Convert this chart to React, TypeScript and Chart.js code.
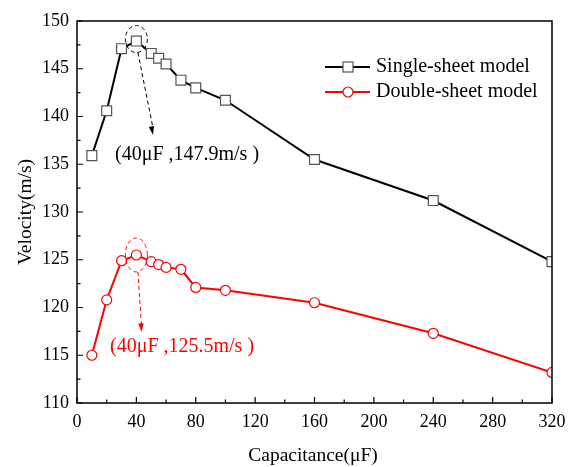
import React, { useEffect, useRef } from "react";
import { Chart, registerables } from "chart.js";

Chart.register(...registerables);

const capacitance = [10, 20, 30, 40, 50, 55, 60, 70, 80, 100, 160, 240, 320];
const singleSheet = [135.9, 140.6, 147.1, 147.9, 146.6, 146.1, 145.5, 143.8, 143.0, 141.7, 135.5, 131.2, 124.8];
const doubleSheet = [115.0, 120.8, 124.9, 125.5, 124.8, 124.5, 124.2, 124.0, 122.1, 121.8, 120.5, 117.3, 113.2];
const seriesNames = ["Single-sheet model", "Double-sheet model"];
const peakLabels = ["(40\u03bcF ,147.9m/s )", "(40\u03bcF ,125.5m/s )"];
const xTitle = "Capacitance(\u03bcF)";
const yTitle = "Velocity(m/s)";

const FONT = '"Liberation Serif", "DejaVu Serif", serif';

const decorPlugin = {
  id: "decor",
  afterDraw(chart: any) {
    const ctx = chart.ctx;
    const { left, right, top, bottom } = chart.chartArea;
    const xs = chart.scales.x;
    const ys = chart.scales.y;
    ctx.save();
    // frame
    ctx.strokeStyle = "#000";
    ctx.lineWidth = 1.5;
    ctx.strokeRect(left, top, right - left, bottom - top);
    // ticks inward
    ctx.lineWidth = 1.2;
    ctx.beginPath();
    for (let v = 0; v <= 320; v += 20) {
      const px = xs.getPixelForValue(v);
      const len = v % 40 === 0 ? 6 : 3.5;
      ctx.moveTo(px, bottom);
      ctx.lineTo(px, bottom - len);
    }
    for (let v = 110; v <= 150; v += 2.5) {
      const py = ys.getPixelForValue(v);
      const len = v % 5 === 0 ? 6 : 3.5;
      ctx.moveTo(left, py);
      ctx.lineTo(left + len, py);
    }
    ctx.stroke();

    // axis titles
    ctx.fillStyle = "#000";
    ctx.font = "19.5px " + FONT;
    ctx.textAlign = "center";
    ctx.textBaseline = "middle";
    ctx.fillText(xTitle, 313, 456);
    ctx.save();
    ctx.translate(26, 212);
    ctx.rotate(-Math.PI / 2);
    ctx.fillText(yTitle, 0, 0);
    ctx.restore();

    // annotations
    const peaks = [
      { v: singleSheet[3], color: "#000", text: peakLabels[0], tx: 115, ty: 155, endX: 153, endY: 135, ry: 13.5, cyOff: -2 },
      { v: doubleSheet[3], color: "#ff0000", text: peakLabels[1], tx: 110, ty: 347, endX: 141.5, endY: 332, ry: 17, cyOff: 0 },
    ];
    for (const p of peaks) {
      const cx = xs.getPixelForValue(capacitance[3]);
      const cy = ys.getPixelForValue(p.v) + p.cyOff;
      ctx.strokeStyle = p.color;
      ctx.fillStyle = p.color;
      ctx.lineWidth = 1;
      ctx.setLineDash([4, 3]);
      ctx.beginPath();
      ctx.ellipse(cx, cy, 11, p.ry, 0, 0, Math.PI * 2);
      ctx.stroke();
      // arrow
      const sx = cx + 1.5;
      const sy = cy + p.ry;
      ctx.beginPath();
      ctx.moveTo(sx, sy);
      ctx.lineTo(p.endX, p.endY - 7);
      ctx.stroke();
      ctx.setLineDash([]);
      const ang = Math.atan2(p.endY - sy, p.endX - sx);
      ctx.beginPath();
      ctx.moveTo(p.endX, p.endY);
      ctx.lineTo(p.endX - 9 * Math.cos(ang - 0.3), p.endY - 9 * Math.sin(ang - 0.3));
      ctx.lineTo(p.endX - 9 * Math.cos(ang + 0.3), p.endY - 9 * Math.sin(ang + 0.3));
      ctx.closePath();
      ctx.fill();
      ctx.font = "20px " + FONT;
      ctx.textAlign = "left";
      ctx.textBaseline = "middle";
      ctx.fillText(p.text, p.tx, p.ty);
    }

    // legend
    const items = [
      { name: seriesNames[0], color: "#000", marker: "rect", y: 67 },
      { name: seriesNames[1], color: "#ff0000", marker: "circle", y: 92 },
    ];
    for (const it of items) {
      ctx.strokeStyle = it.color;
      ctx.lineWidth = 2;
      ctx.beginPath();
      ctx.moveTo(325, it.y);
      ctx.lineTo(370, it.y);
      ctx.stroke();
      ctx.fillStyle = "#fff";
      ctx.lineWidth = 1.2;
      if (it.marker === "rect") {
        ctx.strokeStyle = "#555";
        ctx.fillRect(343, it.y - 5, 10, 10);
        ctx.strokeRect(343, it.y - 5, 10, 10);
      } else {
        ctx.beginPath();
        ctx.arc(348, it.y, 5, 0, Math.PI * 2);
        ctx.fill();
        ctx.stroke();
      }
      ctx.fillStyle = "#000";
      ctx.font = "20px " + FONT;
      ctx.textAlign = "left";
      ctx.textBaseline = "middle";
      ctx.fillText(it.name, 376, it.y);
    }
    ctx.restore();
  },
};

export default function App() {
  const ref = useRef<HTMLCanvasElement>(null);
  useEffect(() => {
    document.body.style.margin = "0";
    const canvas = ref.current!;
    const chart = new Chart(canvas, {
      type: "line",
      data: {
        datasets: [
          {
            label: seriesNames[0],
            data: capacitance.map((c, i) => ({ x: c, y: singleSheet[i] })),
            borderColor: "#000",
            borderWidth: 2,
            pointStyle: "rect",
            pointRadius: 7,
            pointBorderColor: "#555",
            pointBackgroundColor: "#fff",
            pointBorderWidth: 1.2,
            tension: 0,
          },
          {
            label: seriesNames[1],
            data: capacitance.map((c, i) => ({ x: c, y: doubleSheet[i] })),
            borderColor: "#ff0000",
            borderWidth: 2,
            pointStyle: "circle",
            pointRadius: 5,
            pointBorderColor: "#ff0000",
            pointBackgroundColor: "#fff",
            pointBorderWidth: 1.2,
            tension: 0,
          },
        ],
      },
      options: {
        animation: false,
        responsive: false,
        maintainAspectRatio: false,
        layout: { padding: { top: 21, right: 29, left: 0, bottom: 0 } },
        plugins: { legend: { display: false }, tooltip: { enabled: false } },
        scales: {
          x: {
            type: "linear",
            min: 0,
            max: 320,
            grid: { display: false, drawTicks: false },
            border: { display: false },
            ticks: {
              stepSize: 40,
              padding: 8,
              color: "#000",
              font: { family: FONT, size: 18 },
              maxRotation: 0,
            },
            afterFit: (s: any) => {
              s.height = 64;
            },
          },
          y: {
            min: 110,
            max: 150,
            grid: { display: false, drawTicks: false },
            border: { display: false },
            ticks: {
              stepSize: 5,
              padding: 8,
              color: "#000",
              font: { family: FONT, size: 18 },
            },
            afterFit: (s: any) => {
              s.width = 77;
            },
          },
        },
      },
      plugins: [decorPlugin],
    } as any);
    return () => chart.destroy();
  }, []);
  return (
    <div style={{ width: 581, height: 467, background: "#fff" }}>
      <canvas ref={ref} width={581} height={467} style={{ display: "block" }} />
    </div>
  );
}
